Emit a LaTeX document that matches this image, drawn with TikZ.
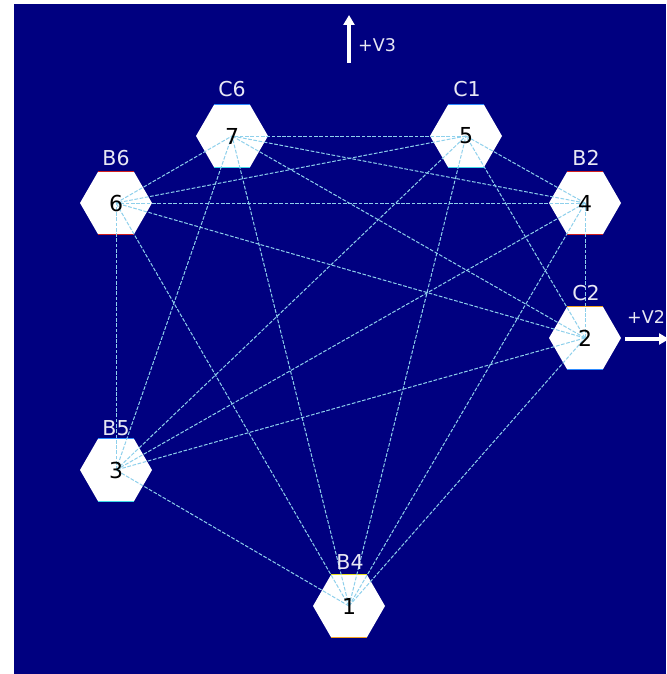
\documentclass[tikz,border=0pt]{standalone}
\usepackage{fontspec}
\setmainfont{DejaVu Sans}
\usetikzlibrary{shapes.geometric,arrows.meta}
\definecolor{bgnavy}{HTML}{000080}
\definecolor{edgeblue}{HTML}{8ED0EC}
\definecolor{lbl}{HTML}{E8E8F4}
\definecolor{tblue}{HTML}{2E8BFF}
\definecolor{tcyan}{HTML}{40D8E8}
\definecolor{tred}{HTML}{D02020}
\definecolor{torange}{HTML}{F0A020}
\definecolor{tyellow}{HTML}{E8E020}
\begin{document}
\begin{tikzpicture}[x=1pt,y=-1pt,
  hexnode/.style={regular polygon, regular polygon sides=6,
    minimum size=72pt, inner sep=0pt, outer sep=0pt, fill=white, draw=none},
  numlabel/.style={font=\fontsize{22}{22}\selectfont, text=black, inner sep=0pt},
  namelabel/.style={font=\fontsize{20.5}{20.5}\selectfont, text=lbl, inner sep=0pt},
  vlabel/.style={font=\fontsize{17.5}{17.5}\selectfont, text=lbl, inner sep=0pt},
  edgeline/.style={draw=edgeblue, line width=1pt, dash pattern=on 3.7pt off 1.6pt},
  rimline/.style={line width=1.3pt},
  bigarrow/.style={draw=white, line width=3.5pt, -{Triangle[width=11pt,length=10pt]}}]
\useasboundingbox (0,0) rectangle (666,674);
\clip (0,0) rectangle (666,674);
\fill[white] (0,0) rectangle (666,674);
\fill[bgnavy] (14,4) rectangle (666,674);

% hexagons
\node[hexnode] (h1) at (349,606) {};
\node[hexnode] (h2) at (585,338) {};
\node[hexnode] (h3) at (116,470) {};
\node[hexnode] (h4) at (585,203) {};
\node[hexnode] (h5) at (466,136) {};
\node[hexnode] (h6) at (116,203) {};
\node[hexnode] (h7) at (232,136) {};

% coloured rims
\draw[rimline,tyellow] (h1.120) -- (h1.60);
\draw[rimline,torange] (h1.240) -- (h1.300);
\draw[rimline,torange] (h2.120) -- (h2.60);
\draw[rimline,tblue] (h2.240) -- (h2.300);
\draw[rimline,tblue] (h3.120) -- (h3.60);
\draw[rimline,tcyan] (h3.240) -- (h3.300);
\draw[rimline,tred] (h4.120) -- (h4.60);
\draw[rimline,tred] (h4.240) -- (h4.300);
\draw[rimline,tblue] (h5.120) -- (h5.60);
\draw[rimline,tcyan] (h5.240) -- (h5.300);
\draw[rimline,tred] (h6.120) -- (h6.60);
\draw[rimline,tred] (h6.240) -- (h6.300);
\draw[rimline,tblue] (h7.120) -- (h7.60);
\draw[rimline,tcyan] (h7.240) -- (h7.300);

% edges (complete graph)
\foreach \a/\b in {1/2,1/3,1/4,1/5,1/6,1/7,2/3,2/4,2/5,2/6,2/7,3/4,3/5,3/6,3/7,4/5,4/6,4/7,5/6,5/7,6/7}
  \draw[edgeline] (h\a.center) -- (h\b.center);

% numbers
\foreach \i in {1,...,7}
  \node[numlabel] (n\i) at (h\i.center) {\i};

% names
\node[namelabel] (l1) at (350,562) {B4};
\node[namelabel] (l2) at (586,293) {C2};
\node[namelabel] (l3) at (116,428) {B5};
\node[namelabel] (l4) at (586,158) {B2};
\node[namelabel] (l5) at (467,89) {C1};
\node[namelabel] (l6) at (116,158) {B6};
\node[namelabel] (l7) at (232,89) {C6};

% direction arrows
\coordinate (v3a) at (349,63);
\coordinate (v3b) at (349,15);
\draw[bigarrow] (v3a) -- (v3b);
\node[vlabel] (tv3) at (377,45) {+V3};
\coordinate (v2a) at (625,339);
\coordinate (v2b) at (669,339);
\draw[bigarrow] (v2a) -- (v2b);
\node[vlabel] (tv2) at (646,317) {+V2};
\end{tikzpicture}
\end{document}
